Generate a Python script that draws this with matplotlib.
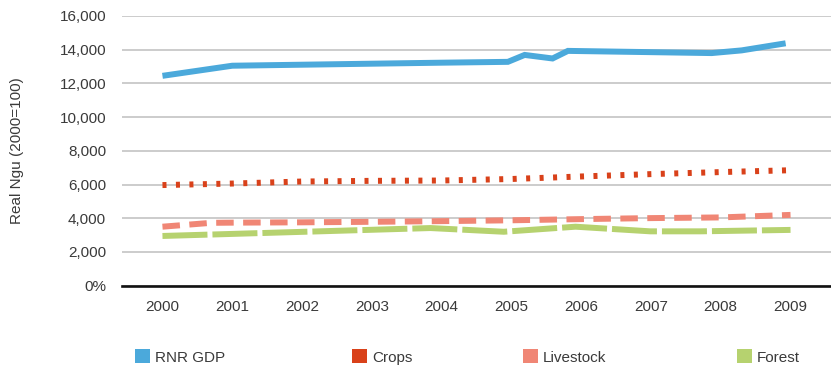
import matplotlib
matplotlib.use("Agg")
import matplotlib.pyplot as plt
from matplotlib.patches import Patch

plt.rcParams['font.family'] = ['Liberation Sans', 'DejaVu Sans']
plt.rcParams['lines.scale_dashes'] = False

# ---- data -------------------------------------------------------------
years = [2000, 2001, 2002, 2003, 2004, 2005, 2006, 2007, 2008, 2009]
year_labels = [str(y) for y in years]

rnr_x = [2000, 2001, 2002, 2003, 2004, 2004.95, 2005.19, 2005.59, 2005.81,
         2007.87, 2008.3, 2008.93]
rnr_y = [12450, 13050, 13110, 13170, 13230, 13280, 13690, 13480, 13930,
         13800, 13960, 14380]

crops_x = years
crops_y = [5970, 6060, 6180, 6220, 6240, 6330, 6480, 6620, 6740, 6850]

livestock_x = [2000, 2000.7, 2001, 2002, 2003, 2004, 2005, 2006, 2007, 2008, 2009]
livestock_y = [3500, 3730, 3740, 3760, 3790, 3830, 3880, 3950, 4010, 4050, 4200]

forest_x = [2000, 2003.84, 2004.89, 2005.92, 2006.99, 2007.71, 2009]
forest_y = [2950, 3420, 3200, 3500, 3225, 3225, 3310]

y_ticks = [0, 2000, 4000, 6000, 8000, 10000, 12000, 14000, 16000]
y_tick_labels = ['0%', '2,000', '4,000', '6,000', '8,000', '10,000',
                 '12,000', '14,000', '16,000']

series_names = ['RNR GDP', 'Crops', 'Livestock', 'Forest']
colors = ['#4BA9DB', '#D9411A', '#F08675', '#B6D26F']

# ---- figure -------------------------------------------------------------
fig = plt.figure(figsize=(8.31, 3.72), dpi=100)
ax = fig.add_axes([0.1468, 0.232, 0.8532, 0.725])

lw = 4.3
ax.plot(rnr_x, rnr_y, color=colors[0], lw=lw, solid_capstyle='butt',
        solid_joinstyle='miter', zorder=5)
ax.plot(crops_x, crops_y, color=colors[1], lw=lw, dashes=(2.9, 6.8),
        dash_capstyle='butt', zorder=4)
ax.plot(livestock_x, livestock_y, color=colors[2], lw=lw, dashes=(12.6, 6.8),
        dash_capstyle='butt', zorder=3)
ax.plot(forest_x, forest_y, color=colors[3], lw=lw, dashes=(32.4, 3.6),
        dash_capstyle='butt', zorder=3)

ax.set_xlim(1999.42, 2009.58)
ax.set_ylim(0, 16000)
ax.set_xticks(years)
ax.set_xticklabels(year_labels)
ax.set_yticks(y_ticks)
ax.set_yticklabels(y_tick_labels)

ax.grid(axis='y', color='#BEBEBE', lw=1.1)
ax.set_axisbelow(True)
for side in ['top', 'right', 'left']:
    ax.spines[side].set_visible(False)
ax.spines['bottom'].set_color('#111111')
ax.spines['bottom'].set_linewidth(1.9)
ax.spines['bottom'].set_zorder(6)

ax.tick_params(axis='both', length=0, labelsize=11, labelcolor='#3A3A3A')
ax.tick_params(axis='y', pad=11.5)
ax.tick_params(axis='x', pad=10)

ax.set_ylabel('Real Ngu (2000=100)', fontsize=11, color='#3A3A3A')
ax.yaxis.set_label_coords(-0.138, 0.5)

# one legend entry per slot along the bottom of the figure
legend_left = [135, 352, 523, 737]
for name, color, left in zip(series_names, colors, legend_left):
    fig.legend([Patch(facecolor=color, edgecolor='none')], [name],
               loc='center left', bbox_to_anchor=(left / 831, 1 - 357 / 372),
               frameon=False, fontsize=11, labelcolor='#3A3A3A',
               handlelength=1.0, handleheight=1.0, handletextpad=0.3,
               borderpad=0, borderaxespad=0)

fig.savefig('out.png', dpi=100)
